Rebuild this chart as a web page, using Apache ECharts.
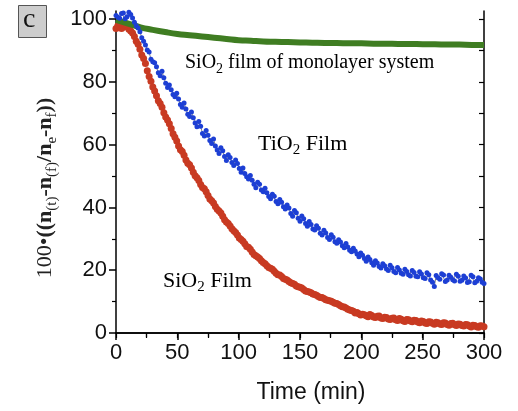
<!DOCTYPE html>
<html>
<head>
<meta charset="utf-8">
<style>
  html, body { margin: 0; padding: 0; background: #fff; }
  #chart { width: 518px; height: 411px; }
</style>
<script src="https://cdn.jsdelivr.net/npm/echarts@6/dist/echarts.min.js"></script>
</head>
<body>
<div id="chart"></div>
<script>
// readings every 3 min (t = 0, 3, ... 300) and the in-between ones (t = 1.5, 4.5, ... 298.5)
var sio2Values = [
  97.0, 98.2, 97.4, 97.8, 96.2, 94.5, 92.0, 88.6, 85.9, 81.7,
  78.4, 75.6, 73.1, 70.2, 67.9, 65.2, 62.4, 59.6, 57.8, 55.1,
  53.6, 51.2, 49.5, 47.3, 46.0, 43.8, 42.1, 40.3, 38.9, 37.2,
  35.4, 34.1, 32.6, 31.2, 29.8, 28.4, 27.3, 25.8, 24.6, 23.7,
  22.5, 21.4, 20.6, 19.7, 18.6, 18.0, 17.1, 16.4, 15.8, 15.0,
  14.6, 13.9, 13.2, 12.8, 12.3, 11.6, 11.3, 10.6, 10.3, 9.8,
  9.4, 8.7, 8.3, 7.6, 7.2, 6.4, 6.1, 6.0, 5.5, 5.9,
  5.1, 5.3, 4.8, 5.0, 4.5, 4.7, 4.2, 4.6, 3.9, 4.3,
  3.8, 4.1, 3.5, 3.8, 3.2, 3.6, 3.1, 3.4, 2.9, 3.3,
  2.7, 3.0, 2.6, 2.9, 2.4, 2.7, 2.2, 2.5, 2.0, 2.3,
  2.0
];
var sio2Half = [
  97.9, 97.0, 98.0, 96.8, 95.6, 93.0, 90.4, 87.5, 83.6, 80.2,
  77.1, 74.0, 71.9, 68.8, 66.7, 63.5, 61.2, 58.4, 56.6, 54.1,
  52.6, 50.1, 48.6, 46.4, 45.0, 42.7, 41.4, 39.4, 38.2, 36.1,
  34.9, 33.2, 32.0, 30.3, 29.2, 27.6, 26.7, 25.0, 24.2, 23.0,
  22.1, 20.9, 20.3, 19.0, 18.5, 17.4, 16.9, 16.0, 15.5, 14.7,
  14.3, 13.4, 13.1, 12.4, 12.0, 11.3, 11.0, 10.4, 10.1, 9.5,
  9.1, 8.4, 8.0, 7.3, 6.9, 6.5, 5.7, 5.8, 5.2, 5.6,
  4.9, 5.4, 4.6, 4.9, 4.3, 4.8, 4.0, 4.4, 3.7, 4.2,
  3.6, 4.0, 3.3, 3.7, 3.0, 3.5, 2.8, 3.3, 2.7, 3.2,
  2.5, 3.1, 2.4, 2.8, 2.2, 2.6, 1.9, 2.4, 1.8, 2.2
];

var tio2Values = [
  101.2, 100.3, 102.0, 100.8, 101.5, 99.0, 97.2, 94.1, 91.8, 89.5,
  86.4, 84.8, 82.0, 81.3, 78.2, 77.5, 75.3, 74.6, 71.9, 71.4,
  69.0, 68.6, 65.7, 65.9, 62.8, 63.0, 60.4, 59.6, 57.2, 58.1,
  55.0, 55.9, 53.4, 54.0, 51.2, 50.8, 49.1, 48.7, 46.3, 47.4,
  45.0, 44.7, 42.8, 43.6, 41.2, 41.7, 39.5, 39.8, 37.2, 38.3,
  35.6, 36.4, 34.0, 34.6, 32.8, 33.4, 31.2, 31.9, 29.8, 30.5,
  28.6, 29.0, 27.2, 27.4, 25.9, 26.1, 24.3, 24.8, 22.9, 23.4,
  21.6, 22.3, 20.7, 21.4, 19.9, 20.8, 19.2, 20.1, 18.7, 19.6,
  18.2, 19.3, 17.9, 18.8, 17.4, 18.6, 16.2, 18.3, 17.1, 18.5,
  16.9, 17.8, 16.6, 18.1, 16.8, 17.5, 16.3, 17.9, 16.5, 17.2,
  15.8
];
var tio2Half = [
  100.6, 101.8, 100.1, 102.2, 100.4, 97.9, 96.0, 93.0, 90.2, 87.2,
  86.1, 82.9, 83.4, 79.6, 79.0, 76.0, 76.4, 72.8, 73.3, 69.7,
  70.4, 66.9, 67.4, 63.6, 64.5, 61.3, 61.8, 58.3, 59.0, 56.2,
  56.8, 54.3, 55.1, 52.4, 52.6, 49.8, 50.2, 47.4, 48.0, 45.6,
  46.1, 43.5, 44.2, 41.9, 42.5, 40.2, 40.8, 38.1, 39.0, 36.6,
  37.3, 34.9, 35.5, 33.1, 34.2, 31.8, 32.7, 30.4, 31.3, 29.1,
  29.7, 27.8, 28.5, 26.4, 27.0, 25.2, 25.5, 23.7, 24.2, 22.4,
  23.0, 21.2, 22.1, 20.4, 21.6, 19.6, 20.9, 19.0, 20.3, 18.6,
  19.9, 18.1, 19.5, 17.6, 19.2, 16.9, 14.8, 17.6, 18.9, 16.4,
  18.4, 17.0, 18.7, 16.5, 18.2, 16.1, 18.4, 16.0, 17.6, 16.2
];

// SiO2 film of monolayer system (green), every 10 min
var timeCoarse = [0, 10, 20, 30, 40, 50, 60, 70, 80, 90, 100, 110, 120, 130, 140, 150,
  160, 170, 180, 190, 200, 210, 220, 230, 240, 250, 260, 270, 280, 290, 300];
var monoValues = [99.8, 98.6, 97.4, 96.6, 95.9, 95.3, 94.9, 94.5, 94.1, 93.7, 93.3, 93.1,
  92.9, 92.8, 92.7, 92.6, 92.5, 92.4, 92.4, 92.3, 92.3, 92.2, 92.2, 92.1, 92.1, 92.0,
  92.0, 91.9, 91.9, 91.8, 91.8];

var yLabels = [0, 20, 40, 60, 80, 100];
var yMinor = [10, 30, 50, 70, 90];
var yAll = [0, 10, 20, 30, 40, 50, 60, 70, 80, 90, 100];

// merge the 3-min readings with the in-between ones into [t, v] pairs
function merged(full, half) {
  var out = [];
  for (var i = 0; i < full.length; i++) {
    out.push([i * 3, full[i]]);
    if (i < half.length) out.push([i * 3 + 1.5, half[i]]);
  }
  return out;
}

var serif = '"Liberation Serif", "Times New Roman", serif';
var sans = '"Liberation Sans", Arial, sans-serif';

var subRich = {
  m: { fontFamily: serif, fontSize: 20, color: '#111', lineHeight: 26, verticalAlign: 'middle' },
  s: { fontFamily: serif, fontSize: 14, color: '#111', lineHeight: 14, verticalAlign: 'bottom' }
};
var bigRich = {
  m: { fontFamily: serif, fontSize: 22, color: '#111', lineHeight: 28, verticalAlign: 'middle' },
  s: { fontFamily: serif, fontSize: 15, color: '#111', lineHeight: 15, verticalAlign: 'bottom' }
};

var chart = echarts.init(document.getElementById('chart'));
chart.setOption({
  backgroundColor: '#fff',
  animation: false,
  grid: { left: 116, right: 34, top: 11, bottom: 78 },
  xAxis: [{
    type: 'value', min: 0, max: 300, interval: 50,
    name: 'Time (min)', nameLocation: 'middle', nameGap: 48,
    nameTextStyle: { fontFamily: sans, fontSize: 23, color: '#111', padding: [0, 0, 0, 22] },
    axisLine: { lineStyle: { color: '#000', width: 1.5 } },
    axisTick: { inside: false, length: 7, lineStyle: { color: '#000', width: 1.5 } },
    minorTick: { show: true, splitNumber: 2, length: 4, lineStyle: { color: '#000', width: 1.2 } },
    axisLabel: { fontFamily: sans, fontSize: 22, color: '#111', margin: 9 },
    splitLine: { show: false }
  }, {
    type: 'value', position: 'top', min: 0, max: 300, interval: 25,
    axisLine: { lineStyle: { color: '#000', width: 1.5 } },
    axisTick: { inside: true, length: 5, lineStyle: { color: '#000', width: 1.2 } },
    axisLabel: { show: false },
    splitLine: { show: false }
  }],
  yAxis: [{
    type: 'value', min: 0, max: 102.6,
    name: '{m|100•}{b|((n}{s|(t)}{b|-n}{s|(f)}{b|/n}{s|e}{b|-n}{s|f}{b|))}',
    nameLocation: 'middle', nameGap: 53, nameRotate: 90,
    nameTextStyle: {
      padding: [0, 32, 0, 0],
      rich: {
        m: { fontFamily: serif, fontSize: 22, color: '#222', lineHeight: 28, verticalAlign: 'middle' },
        b: { fontFamily: serif, fontSize: 22, fontWeight: 'bold', color: '#222', lineHeight: 28, verticalAlign: 'middle' },
        s: { fontFamily: serif, fontSize: 15, color: '#222', lineHeight: 15, verticalAlign: 'bottom' }
      }
    },
    axisLine: { lineStyle: { color: '#000', width: 1.5 } },
    axisTick: { inside: false, length: 7, customValues: yLabels, lineStyle: { color: '#000', width: 1.5 } },
    axisLabel: { fontFamily: sans, fontSize: 22, color: '#111', margin: 9, customValues: yLabels },
    splitLine: { show: false }
  }, {
    type: 'value', position: 'left', min: 0, max: 102.6,
    axisLine: { show: false },
    axisTick: { inside: false, length: 4, customValues: yMinor, lineStyle: { color: '#000', width: 1.2 } },
    axisLabel: { show: false },
    splitLine: { show: false }
  }, {
    type: 'value', position: 'right', min: 0, max: 102.6,
    axisLine: { show: true, lineStyle: { color: '#000', width: 1.5 } },
    axisTick: { inside: true, length: 5, customValues: yAll, lineStyle: { color: '#000', width: 1.2 } },
    axisLabel: { show: false },
    splitLine: { show: false }
  }],
  series: [{
    name: 'SiO2 Film', type: 'scatter', xAxisIndex: 0, yAxisIndex: 0,
    data: merged(sio2Values, sio2Half),
    symbolSize: 7,
    itemStyle: { color: '#c83a22', opacity: 1 }
  }, {
    name: 'TiO2 Film', type: 'line', xAxisIndex: 0, yAxisIndex: 0,
    data: merged(tio2Values, tio2Half),
    showSymbol: true, symbol: 'circle', symbolSize: 5,
    lineStyle: { color: '#4a4a55', width: 0.7 },
    itemStyle: { color: '#1d3fd4' }
  }, {
    name: 'SiO2 film of monolayer system', type: 'line', xAxisIndex: 0, yAxisIndex: 0,
    data: timeCoarse.map(function (t, k) { return [t, monoValues[k]]; }),
    smooth: true, showSymbol: false,
    lineStyle: { color: '#3f7d22', width: 6 }
  }],
  graphic: [{
    type: 'rect', left: 18, top: 5,
    shape: { width: 28, height: 32 },
    style: { fill: '#cdcdcd', stroke: '#555', lineWidth: 1 }
  }, {
    type: 'text', left: 23, top: 6,
    style: { text: 'c', font: '28px ' + serif, fill: '#111' }
  }, {
    type: 'text', left: 185, top: 53,
    style: { text: '{m|SiO}{s|2}{m| film of monolayer system}', rich: subRich }
  }, {
    type: 'text', left: 258, top: 133,
    style: { text: '{m|TiO}{s|2}{m| Film}', rich: bigRich }
  }, {
    type: 'text', left: 163, top: 270,
    style: { text: '{m|SiO}{s|2}{m| Film}', rich: bigRich }
  }]
});
</script>
</body>
</html>
